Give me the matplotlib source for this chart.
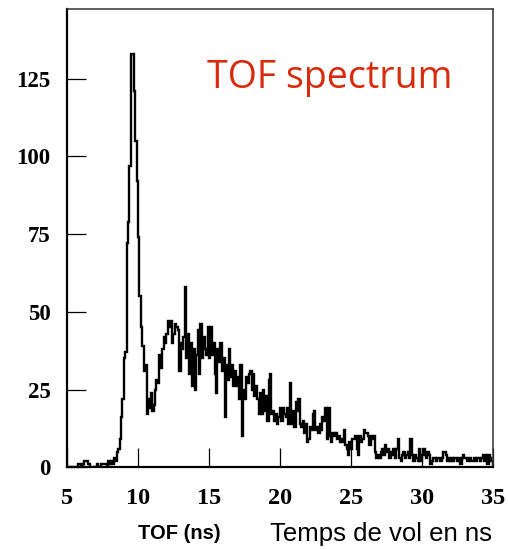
import numpy as np
import matplotlib
matplotlib.use("Agg")
import matplotlib.pyplot as plt

# TOF histogram, 0.1 ns bins from 5 to 35 ns (one row per ns)
counts = [
    0, 0, 0, 0, 0, 0, 0, 0, 1, 1,            # 5
    0, 1, 2, 2, 2, 1, 0, 0, 0, 0,            # 6
    0, 1, 0, 0, 1, 1, 1, 1, 0, 2,            # 7
    1, 2, 1, 3, 2, 5, 6, 9, 16, 22,          # 8
    35, 37, 72, 79, 97, 133, 133, 121, 105, 92,  # 9
    74, 55, 45, 39, 31, 33, 17, 22, 19, 24,  # 10
    18, 20, 25, 28, 27, 36, 32, 38, 42, 40,  # 11
    43, 47, 45, 47, 40, 43, 46, 45, 44, 31,  # 12
    40, 38, 42, 58, 35, 43, 30, 40, 26, 38,  # 13
    25, 36, 44, 30, 46, 35, 42, 38, 36, 45,  # 14
    35, 45, 36, 40, 30, 24, 38, 34, 40, 31,  # 15
    35, 16, 33, 28, 38, 29, 33, 26, 31, 26,  # 16
    29, 22, 33, 10, 25, 22, 29, 27, 30, 31,  # 17
    25, 30, 23, 26, 22, 17, 24, 17, 25, 18,  # 18
    23, 15, 28, 30, 17, 18, 15, 17, 14, 16,  # 19
    19, 15, 19, 17, 16, 19, 14, 27, 14, 18,  # 20
    13, 21, 18, 22, 14, 13, 15, 11, 14, 8,   # 21
    9, 13, 12, 17, 18, 12, 13, 11, 14, 12,   # 22
    16, 15, 19, 9, 19, 10, 8, 11, 10, 11,    # 23
    9, 10, 8, 9, 8, 12, 7, 6, 4, 8,          # 24
    6, 9, 9, 10, 6, 4, 10, 8, 9, 12,         # 25
    11, 11, 10, 7, 10, 9, 10, 5, 3, 4,       # 26
    3, 5, 6, 4, 7, 5, 6, 3, 5, 4,            # 27
    6, 3, 6, 9, 3, 2, 4, 5, 3, 4,            # 28
    5, 3, 9, 4, 2, 4, 3, 2, 6, 2,            # 29
    4, 6, 4, 3, 5, 4, 1, 2, 3, 3,            # 30
    2, 3, 3, 2, 3, 5, 5, 4, 2, 3,            # 31
    2, 3, 2, 3, 3, 2, 3, 1, 3, 4,            # 32
    3, 3, 2, 3, 3, 2, 2, 3, 2, 3,            # 33
    3, 2, 3, 4, 2, 4, 1, 4, 3, 2,            # 34
]
bin_edges = np.linspace(5, 35, len(counts) + 1)

x_ticks = [5, 10, 15, 20, 25, 30, 35]
y_ticks = [0, 25, 50, 75, 100, 125]

fig = plt.figure(figsize=(5.08, 5.49), dpi=100)
ax = fig.add_axes([0.132, 0.149, 0.838, 0.835])

ax.stairs(counts, bin_edges, color='black', linewidth=1.7)

ax.set_xlim(5, 35)
ax.set_ylim(0, 147.5)
ax.set_xticks(x_ticks)
ax.set_yticks(y_ticks)

tick_font = {'family': 'Liberation Serif', 'weight': 'bold'}
ax.set_xticklabels([str(t) for t in x_ticks], fontdict=dict(tick_font, size=17.5))
ax.set_yticklabels([str(t) for t in y_ticks], fontdict=dict(tick_font, size=16.5))
ax.tick_params(axis='both', direction='in', length=13.5, width=0.9, color='black')
ax.tick_params(axis='x', pad=15)
ax.tick_params(axis='y', pad=12)

for side in ['left', 'bottom']:
    ax.spines[side].set_linewidth(1.6)
for side in ['top', 'right']:
    ax.spines[side].set_linewidth(1.1)
    ax.spines[side].set_color('#333333')

ax.text(0.618, 0.85, 'TOF spectrum', transform=ax.transAxes, ha='center', va='center',
        color='#d92b0b', fontsize=27, family='Open Sans')

fig.text(0.352, 0.028, 'TOF (ns)', ha='center', va='center', fontsize=14.5,
         family='Liberation Sans', weight='bold')
fig.text(0.750, 0.028, 'Temps de vol en ns', ha='center', va='center', fontsize=18.5,
         family='Liberation Sans')

fig.savefig('out.png', dpi=100)
